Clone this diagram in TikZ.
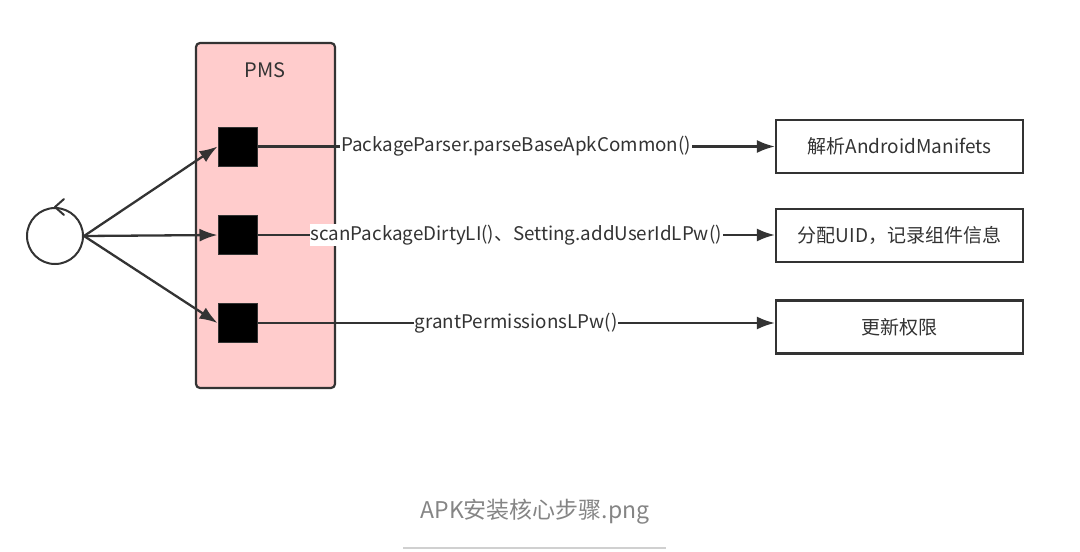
\documentclass[tikz,border=0pt]{standalone}
\usepackage{fontspec}
\setmainfont{Noto Sans CJK SC}
\usetikzlibrary{arrows.meta}
\definecolor{pinkfill}{HTML}{FFCCCC}
\definecolor{dark}{HTML}{333333}
\definecolor{capgrey}{HTML}{858585}
\definecolor{rulegrey}{HTML}{D0D0D0}
\begin{document}
\begin{tikzpicture}[x=1pt,y=-1pt,
  pmsbox/.style={draw=dark,line width=2.2pt,fill=pinkfill,rounded corners=4pt,minimum width=139pt,minimum height=345pt,inner sep=0pt},
  blk/.style={draw=dark,line width=1pt,fill=black,minimum size=39pt,inner sep=0pt},
  resbox/.style={draw=dark,line width=2.2pt,fill=white,minimum width=247pt,minimum height=53pt,inner sep=0pt,font=\fontsize{19pt}{22pt}\selectfont,text=dark},
  arr/.style={draw=dark,line width=2.3pt,-{Latex[length=18pt,width=13pt]}},
  lbl/.style={fill=white,inner sep=1pt,font=\fontsize{18.8pt}{22pt}\selectfont,text=dark},
  txt/.style={font=\fontsize{20pt}{23pt}\selectfont,text=dark}
]
\path[use as bounding box] (0,0) rectangle (1080,552);
\node[pmsbox] (pms) at (265.5,215.5) {};
\node[txt] (pmslbl) at (265,70) {PMS};
\node[blk] (s1) at (237.5,146.5) {};
\node[blk] (s2) at (237.5,235) {};
\node[blk] (s3) at (237.5,323) {};
\node[draw=dark,line width=2pt,circle,minimum size=56pt,inner sep=0pt] (c) at (55,236) {};
\draw[dark,line width=2pt,line cap=round,line join=round] ([shift={(9,-8)}]c.north) -- ([shift={(0,0)}]c.north) -- ([shift={(9,8)}]c.north);
\node[resbox] (b1) at (899.5,146.5) {解析AndroidManifets};
\node[resbox] (b2) at (899.5,235.5) {分配UID，记录组件信息};
\node[resbox] (b3) at (899.5,327) {更新权限};
\draw[arr] (c.east) -- (s1.west);
\draw[arr] (c.east) -- (s2.west);
\draw[arr] (c.east) -- (s3.west);
\draw[arr] (s1.east) -- (b1.west |- s1.east) node[lbl,pos=0.5] {PackageParser.parseBaseApkCommon()};
\draw[arr] (s2.east) -- (b2.west |- s2.east) node[lbl,pos=0.5] {scanPackageDirtyLI()、Setting.addUserIdLPw()};
\draw[arr] (s3.east) -- (b3.west |- s3.east) node[lbl,pos=0.5] {grantPermissionsLPw()};
\node[font=\fontsize{23pt}{26pt}\selectfont,text=capgrey] (cap) at (535,512) {APK安装核心步骤.png};
\coordinate (r1) at (403,548);
\coordinate (r2) at (666,548);
\draw[rulegrey,line width=1.2pt] (r1) -- (r2);
\end{tikzpicture}
\end{document}
